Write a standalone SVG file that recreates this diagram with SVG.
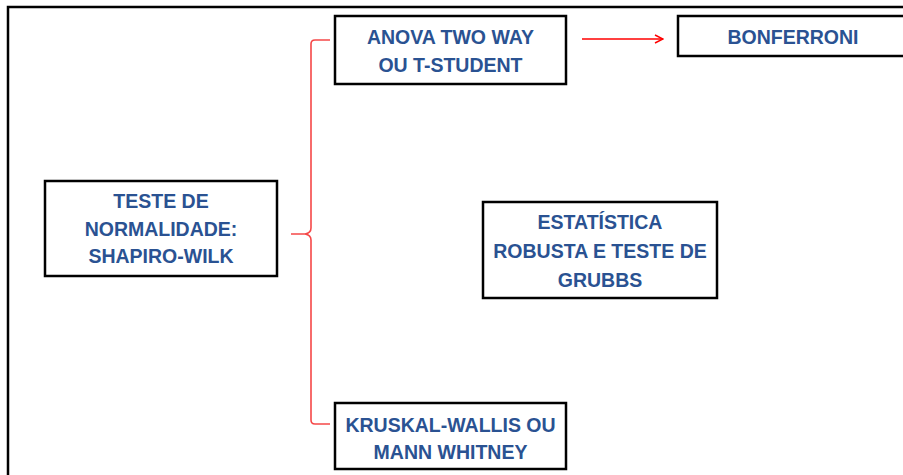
<svg xmlns="http://www.w3.org/2000/svg" width="903" height="475" viewBox="0 0 903 475">
<style>
.box{fill:#fff;stroke:#000;stroke-width:2.5}
.t{font-family:"Liberation Sans",Arial,sans-serif;font-weight:bold;font-size:19.5px;fill:#2A5292;text-anchor:middle}
.brace{fill:none;stroke:#F54848;stroke-width:1.6}
.arr{fill:none;stroke:#F00;stroke-width:1.5}
</style>
<defs>
<marker id="ah" viewBox="0 0 10 10" refX="9" refY="5" markerWidth="10" markerHeight="10" markerUnits="userSpaceOnUse" orient="auto">
<path d="M1,1 L9,5 L1,9" fill="none" stroke="#F00" stroke-width="1.5"/>
</marker>
</defs>
<rect width="903" height="475" fill="#fff"/>
<path d="M8,475 V7 H903" fill="none" stroke="#000" stroke-width="2.5"/>
<g id="connectors">
<path class="brace" d="M330,40 H315 Q311,40 311,44 V228 Q311,233 305,234 H291 H305 Q311,235 311,240 V420 Q311,424 315,424 H330"/>
<path class="arr" d="M582,39 H663" marker-end="url(#ah)"/>
</g>
<g id="shapiro">
<rect class="box" x="45" y="181" width="232" height="95"/>
<text class="t" x="161" y="208">TESTE DE</text>
<text class="t" x="161" y="236">NORMALIDADE:</text>
<text class="t" x="161" y="263">SHAPIRO-WILK</text>
</g>
<g id="anova">
<rect class="box" x="335" y="16" width="231" height="68"/>
<text class="t" x="450.5" y="44">ANOVA TWO WAY</text>
<text class="t" x="450.5" y="72">OU T-STUDENT</text>
</g>
<g id="bonferroni">
<rect class="box" x="678" y="16" width="240" height="40"/>
<text class="t" x="793" y="44">BONFERRONI</text>
</g>
<g id="estatistica">
<rect class="box" x="483" y="202" width="234" height="96"/>
<text class="t" x="600" y="229">ESTATÍSTICA</text>
<text class="t" x="600" y="258">ROBUSTA E TESTE DE</text>
<text class="t" x="600" y="287">GRUBBS</text>
</g>
<g id="kruskal">
<rect class="box" x="335" y="403" width="231" height="66"/>
<text class="t" x="450.5" y="432">KRUSKAL-WALLIS OU</text>
<text class="t" x="450.5" y="459">MANN WHITNEY</text>
</g>
</svg>
